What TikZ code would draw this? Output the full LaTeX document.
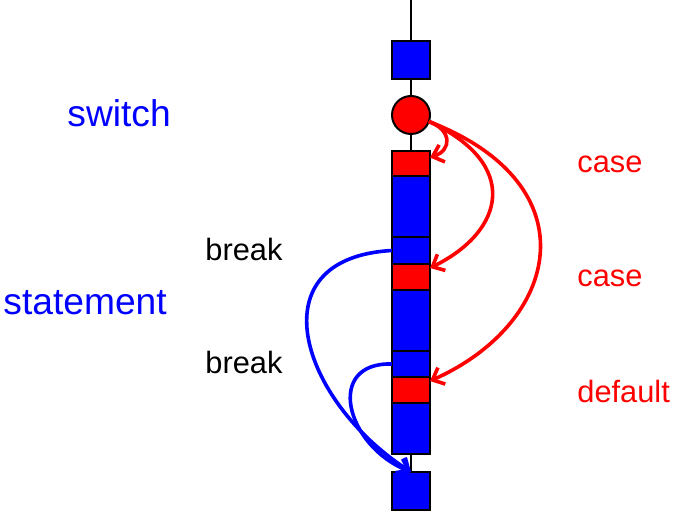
\documentclass[tikz,border=0pt]{standalone}
\usepackage{fontspec}
\setmainfont{Liberation Sans}
\usetikzlibrary{arrows.meta}
\tikzset{
    blk/.style={rectangle, draw, fill=blue, line width=1pt, minimum width=19pt,
    	inner sep=0pt, outer sep=0pt},
    redblk/.style={blk, fill=red},
    big/.style={anchor=base west, inner sep=0pt, font=\fontsize{18.6}{22}\selectfont},
    small/.style={anchor=base west, inner sep=0pt, font=\fontsize{15.4}{18}\selectfont},
    jump/.style={line width=1.8pt, -{Straight Barb[length=5pt,width=9pt,line width=1.8pt]}}
}

\begin{document}
\begin{tikzpicture}[x=0.5pt, y=-0.5pt]
  \useasboundingbox (0,0) rectangle (673,512);
  \coordinate (entry) at (411,0);
  \node (top) [blk, minimum height=19pt] at (411,60) {};
  \node (sel) [circle, draw, fill=red, line width=1pt, minimum size=19pt,
  	inner sep=0pt, outer sep=0pt] at (411,115) {};
  \node (c1) [redblk, minimum height=12.5pt] at (411,163.5) {};
  \node (s1) [blk, minimum height=30.5pt] at (411,206.5) {};
  \node (b1) [blk, minimum height=13.5pt] at (411,250.5) {};
  \node (c2) [redblk, minimum height=13pt] at (411,277) {};
  \node (s2) [blk, minimum height=30.5pt] at (411,320.5) {};
  \node (b2) [blk, minimum height=13pt] at (411,364) {};
  \node (c3) [redblk, minimum height=13pt] at (411,390) {};
  \node (s3) [blk, minimum height=25.5pt] at (411,428.5) {};
  \node (bot) [blk, minimum height=19pt] at (411,491) {};

  % labels
  \node (lsw) [big, text=blue] at (67,127) {switch};
  \node (lst) [big, text=blue] at (3,315) {statement};
  \node (lb1) [small] at (205,261) {break};
  \node (lb2) [small] at (205,373) {break};
  \node (lc1) [small, text=red] at (577,173) {case};
  \node (lc2) [small, text=red] at (577,287) {case};
  \node (ldf) [small, text=red] at (577,402) {default};

  \draw [line width=0.75pt] (entry) edge (top);
  \draw [line width=0.75pt] (top) edge (sel);
  \draw [line width=0.75pt] (sel) edge (c1);
  \draw [line width=0.75pt] (s3) edge (bot);

  % case jumps
  \draw [jump, red] (sel.-20) .. controls (452,130) and (452,150) .. ([yshift=3pt]c1.east);
  \draw [jump, red] (sel.-20) .. controls (521,164) and (505,231) .. ([yshift=4.5pt]c2.east);
  \draw [jump, red] (sel.-20) .. controls (593,185) and (560,323) .. ([yshift=4.5pt]c3.east);

  % break jumps
  \draw [jump, blue] (b1.west) .. controls (255,258) and (300,400) .. (bot.north);
  \draw [jump, blue] (b2.west) .. controls (325,362) and (345,445) .. (bot.north);
\end{tikzpicture}
\end{document}
